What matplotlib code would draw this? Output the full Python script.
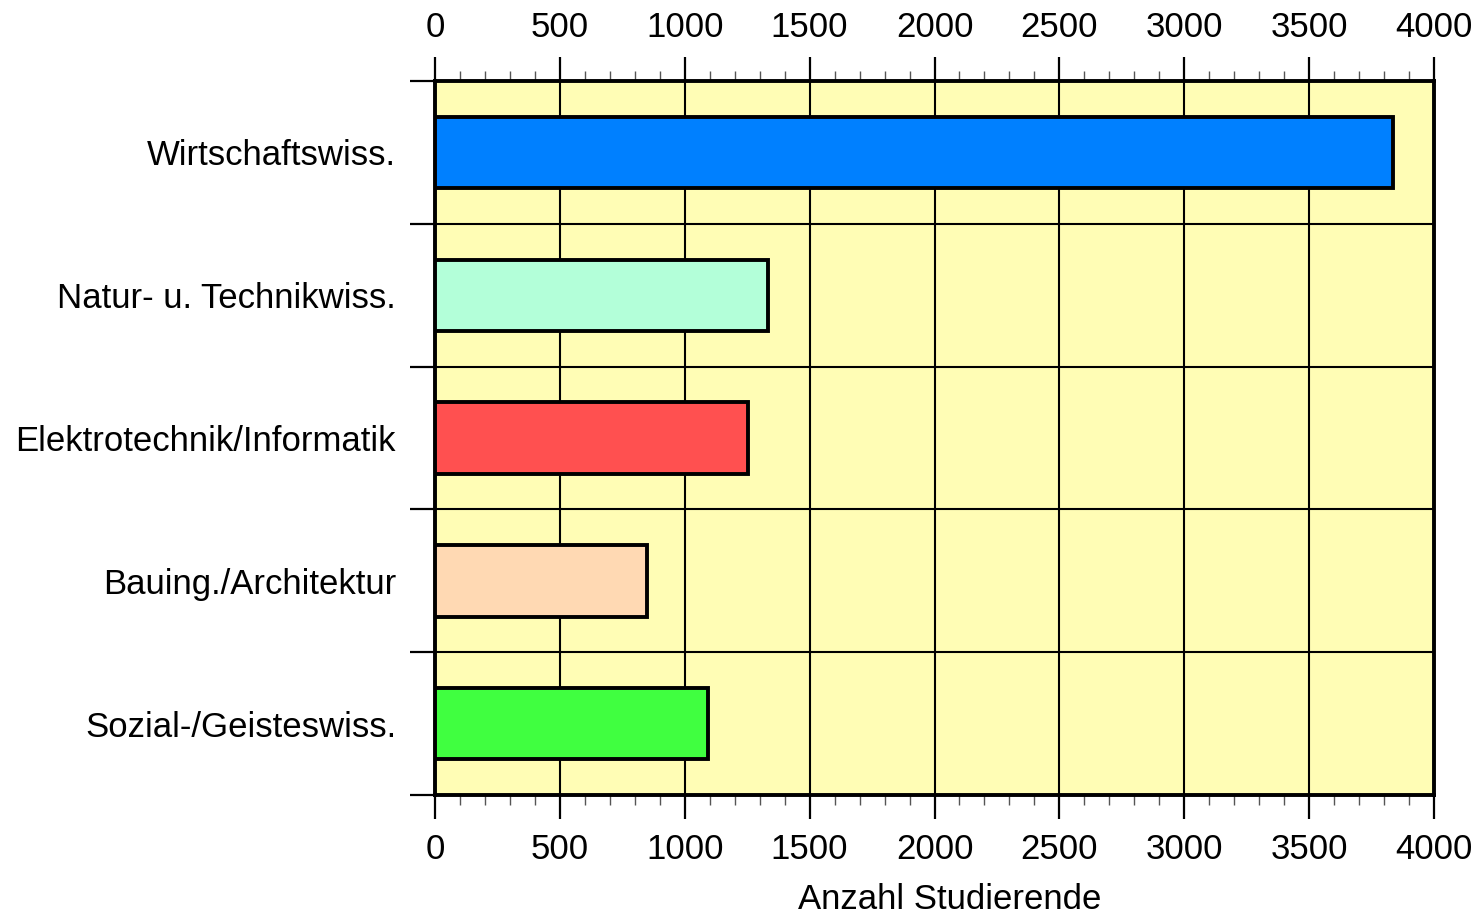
import matplotlib.pyplot as plt
import numpy as np
from matplotlib.ticker import MultipleLocator

plt.rcParams["font.family"] = ["Liberation Sans", "DejaVu Sans"]

# Studierende je Fachbereich (von oben nach unten)
categories = [
    "Wirtschaftswiss.",
    "Natur- u. Technikwiss.",
    "Elektrotechnik/Informatik",
    "Bauing./Architektur",
    "Sozial-/Geisteswiss.",
]
students = [3835, 1335, 1255, 850, 1093]
bar_colors = ["#0080ff", "#b3ffd9", "#ff5050", "#ffd9b3", "#40ff40"]

X_MAX = 4000
n = len(categories)

fig = plt.figure(figsize=(14.79, 9.15), dpi=100)
ax = fig.add_axes([0.2941, 0.1311, 0.6755, 0.7803])
ax.set_facecolor("#fffdb5")

centers = np.arange(n)[::-1] + 0.5
ax.barh(centers, students, height=0.5, color=bar_colors,
        edgecolor="black", linewidth=2.8, zorder=3)

ax.set_xlim(0, X_MAX)
ax.set_ylim(0, n)

# x axis: labels top and bottom, minor ticks every 100
ax.xaxis.set_major_locator(MultipleLocator(500))
ax.xaxis.set_minor_locator(MultipleLocator(100))
ax.tick_params(axis="x", which="both", top=True, labeltop=True,
               bottom=True, labelbottom=True, direction="out")
ax.tick_params(axis="x", which="major", length=17, width=1.6,
               labelsize=25, pad=10)
ax.tick_params(axis="x", which="minor", length=7, width=1.0,
               color="#555555")

# y axis: ticks on category boundaries, labels at centers
ax.set_yticks(np.arange(n + 1))
ax.set_yticklabels([])
ax.set_yticks(centers, minor=True)
ax.set_yticklabels(categories, minor=True)
ax.tick_params(axis="y", which="major", length=18, width=1.6,
               direction="out", left=True, right=False)
ax.tick_params(axis="y", which="minor", length=0, labelsize=25, pad=28)

ax.grid(True, which="major", color="black", linewidth=1.5, zorder=1)
ax.set_axisbelow(True)

for side in ["left", "right", "top", "bottom"]:
    ax.spines[side].set_linewidth(2.8)

ax.set_xlabel("Anzahl Studierende", fontsize=25)
ax.xaxis.set_label_coords(0.515, -0.123)

fig.savefig("out.png", dpi=100)
